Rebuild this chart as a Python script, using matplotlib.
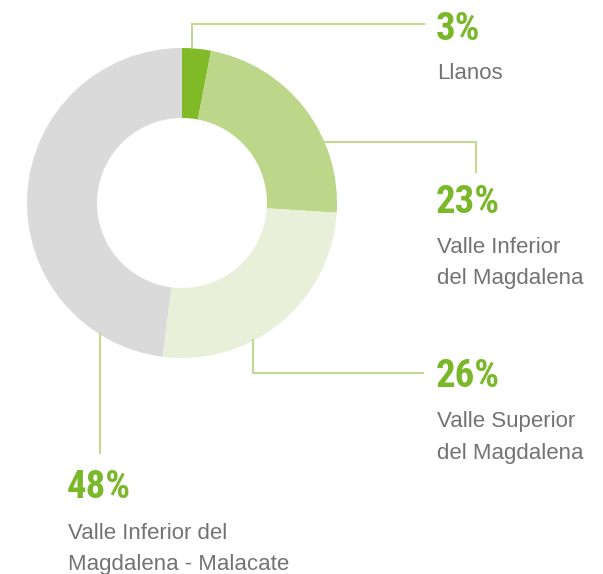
import matplotlib
matplotlib.use("Agg")
import matplotlib.pyplot as plt

# Data
regions = ["Llanos", "Valle Inferior\ndel Magdalena", "Valle Superior\ndel Magdalena",
           "Valle Inferior del\nMagdalena - Malacate"]
shares = [3, 23, 26, 48]
pct_labels = ["3%", "23%", "26%", "48%"]
colors = ["#80ba27", "#bcd78a", "#e8f0da", "#dadada"]

W, H = 603, 574
fig = plt.figure(figsize=(W / 100, H / 100), dpi=100)
ax = fig.add_axes([0, 0, 1, 1])

cx, cy, R, r_in = 182, 203, 155, 85
ax.pie(shares, colors=colors, startangle=270, counterclock=True,
       center=(cx, cy), radius=R, frame=True,
       wedgeprops=dict(width=R - r_in, edgecolor="none", linewidth=0))
ax.set_xlim(0, W)
ax.set_ylim(H, 0)
ax.set_aspect("equal")
ax.axis("off")

line_c = "#c0da90"
lw = 1.5
# connectors
ax.plot([192, 192, 424], [47, 24, 24], color=line_c, lw=lw, solid_joinstyle="miter")
ax.plot([325, 476, 476], [142, 142, 172], color=line_c, lw=lw, solid_joinstyle="miter")
ax.plot([253, 253, 423], [340, 373, 373], color=line_c, lw=lw, solid_joinstyle="miter")
ax.plot([100, 100], [334, 453], color=line_c, lw=lw)

pct_font = dict(family=["Roboto Condensed", "DejaVu Sans"], weight="bold",
                fontsize=28, color="#7ab82a", va="baseline", ha="left")
lab_font = dict(family=["Liberation Sans", "DejaVu Sans"], fontsize=16,
                color="#737373", va="baseline", ha="left")

pct_pos = [(436, 40), (436, 213), (436, 387), (67, 498)]
lab_pos = [(437, [79]), (437, [253, 284]), (437, [427, 459]), (68, [539, 570])]

for p, (px, py) in zip(pct_labels, pct_pos):
    ax.text(px, py, p, **pct_font)
for lab, (lx, lys) in zip(regions, lab_pos):
    for line, ly in zip(lab.split("\n"), lys):
        ax.text(lx, ly, line, **lab_font)

fig.savefig("out.png", dpi=100, facecolor="white")
